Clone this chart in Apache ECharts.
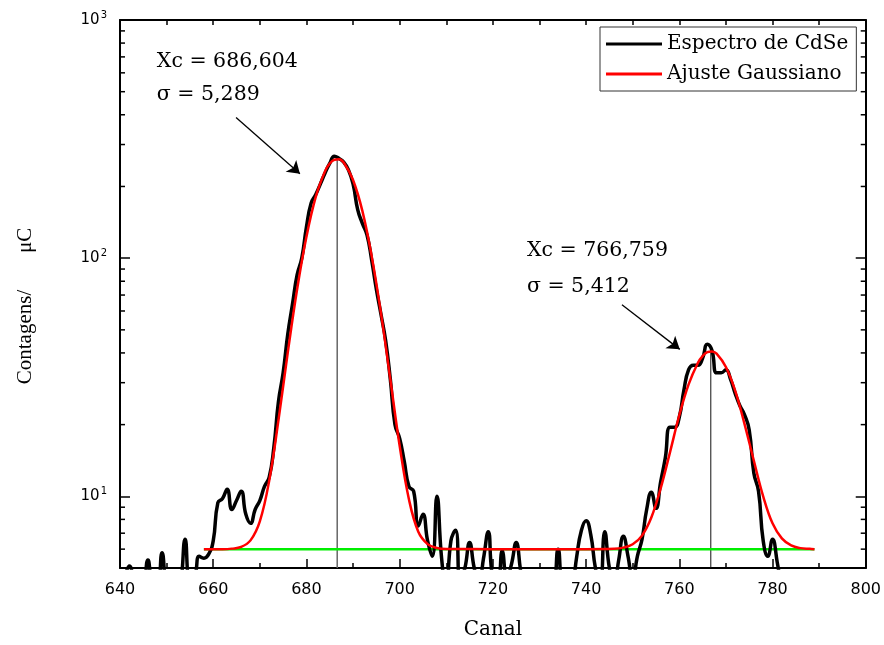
<!DOCTYPE html>
<html>
<head>
<meta charset="utf-8">
<script src="https://cdn.jsdelivr.net/npm/echarts@6/dist/echarts.min.js"></script>
<style>html,body{margin:0;padding:0;background:#fff}#c{width:884px;height:645px}</style>
</head>
<body>
<div id="c"></div>
<script>
// ---- data ----
const spectrumChannels = [640,641,642,643,644,645,646,647,648,649,650,651,652,653,654,655,656,657,658,659,
660,661,662,663,664,665,666,667,668,669,670,671,672,673,674,675,676,677,678,679,
680,681,682,683,684,685,686,687,688,689,690,691,692,693,694,695,696,697,698,699,
700,701,702,703,704,705,706,707,708,709,710,711,712,713,714,715,716,717,718,719,
720,721,722,723,724,725,726,727,728,729,730,731,732,733,734,735,736,737,738,739,
740,741,742,743,744,745,746,747,748,749,750,751,752,753,754,755,756,757,758,759,
760,761,762,763,764,765,766,767,768,769,770,771,772,773,774,775,776,777,778,779,
780,781,782];
const spectrumCounts = [4.0,4.6,5.1,4.2,3.5,3.8,5.4,4.2,4.0,5.8,4.0,3.5,3.5,4.2,6.6,4.5,4.6,5.6,5.5,5.7,
6.5,9.4,9.8,10.7,8.8,9.6,10.5,8.4,7.7,8.8,9.6,11.0,12.0,16,25,33,48,64,85,100,
135,170,185,205,228,250,268,262,253,235,205,160,140,125,98,74,58,45,31,20,
17.5,14,11,10.5,7.5,8.4,6.5,5.6,10,5.5,4.0,6.5,7.2,4.4,5.0,6.4,5.0,4.3,5.5,7.1,
4.5,4.4,5.9,4.5,5.2,6.4,4.8,3.8,3.5,3.5,3.5,3.5,3.5,3.8,6.0,3.8,3.5,4.0,5.6,7.2,
7.9,6.9,5.0,4.2,7.1,5.0,4.2,5.4,6.8,5.6,4.4,5.6,6.6,8.8,10.4,8.9,11.5,14.5,19.5,19.5,
21.5,28,34,35.5,35.5,38,43.5,41,33,33,34,31,27,24,22,19,12.5,10.5,6.5,5.6,
6.6,5.3,4.0];

const fitChannels = [658,660,662,664,666,668,670,672,674,676,678,680,682,684,685,686,687,688,690,692,
694,696,698,700,702,704,706,708,710,720,730,740,746,748,750,752,754,756,758,760,
762,764,765,766,767,768,770,772,774,776,778,780,782,784,786,788,789];
const fitValues = [6.0,6.0,6.0,6.03,6.13,6.53,7.85,11.6,20.9,40.2,74,123,181,232,249.6,259,260.3,252,213,158,
102,58.6,31,16.3,9.7,7.1,6.3,6.07,6.01,6.0,6.0,6.0,6.02,6.09,6.29,6.84,8.15,10.8,15.3,21.9,
29.5,36.4,38.8,40.3,40.6,39.7,34.9,27.7,20.1,14.1,10.0,7.7,6.66,6.22,6.06,6.02,6.0];

const baselineChannels = [658, 789];
const baselineValue = 6.0;

const peakCenters = [686.604, 766.759];
const peakTops = [265, 43];

const xTickLabels = [640,660,680,700,720,740,760,780,800];
const yMinorTicks = [6,7,8,9,20,30,40,50,60,70,80,90,200,300,400,500,600,700,800,900];

const seriesNames = ['Espectro de CdSe', 'Ajuste Gaussiano'];
const annotations = ['Xc = 686,604', 'σ = 5,289', 'Xc = 766,759', 'σ = 5,412'];

// ---- chart ----
const X_MIN = xTickLabels[0], X_MAX = xTickLabels[xTickLabels.length-1];
const chart = echarts.init(document.getElementById('c'), null, {renderer:'canvas'});

const spectrum = spectrumChannels.map((c,i)=>[c, spectrumCounts[i]]);
const fit = fitChannels.map((c,i)=>[c, fitValues[i]]);
const baseline = baselineChannels.map(c=>[c, baselineValue]);

function supLabel(v){
  const l = Math.log10(v), e = Math.round(l);
  if (Math.abs(l - e) > 1e-6) return '';
  return '{b|10}{s|' + e + '}';
}

const xAxisCommon = {
  type:'value', min:X_MIN, max:X_MAX, interval:20,
  axisLine:{show:true, onZero:false, lineStyle:{color:'#000', width:2}},
  axisTick:{show:true, inside:true, length:9, lineStyle:{color:'#000', width:1.5}},
  minorTick:{show:true, splitNumber:2, length:5, lineStyle:{color:'#000', width:1.5}},
  splitLine:{show:false}, minorSplitLine:{show:false}
};
const yAxisCommon = {
  type:'log', logBase:10, min:5, max:1000,
  axisLine:{show:true, onZero:false, lineStyle:{color:'#000', width:2}},
  axisTick:{show:true, inside:true, length:10, lineStyle:{color:'#000', width:1.5}},
  splitLine:{show:false}
};

const option = {
  animation:false,
  backgroundColor:'#fff',
  grid:{left:120, right:18, top:20, bottom:73, containLabel:false},
  legend:{
    data:seriesNames, orient:'vertical', left:600, top:27,
    icon:'rect', itemWidth:56, itemHeight:3, itemGap:10, itemTextGap:9,
    padding:[7,8,7,6], borderColor:'#333', borderWidth:1, backgroundColor:'#fff',
    textStyle:{fontFamily:'DejaVu Serif', fontSize:20, color:'#000'}
  },
  xAxis:[
    Object.assign({}, xAxisCommon, {
      position:'bottom',
      name:'Canal', nameLocation:'middle', nameGap:52,
      nameTextStyle:{fontFamily:'DejaVu Serif', fontSize:20, color:'#000'},
      axisLabel:{show:true, margin:14, fontFamily:'DejaVu Sans', fontSize:16, color:'#000'}
    }),
    Object.assign({}, xAxisCommon, {position:'top', axisLabel:{show:false},
      axisTick:{show:true, inside:true, length:5, lineStyle:{color:'#000', width:1.5}},
      minorTick:{show:true, splitNumber:2, length:5, lineStyle:{color:'#000', width:1.5}}})
  ],
  yAxis:[
    Object.assign({}, yAxisCommon, {
      position:'left',
      name:'Contagens/       μC', nameLocation:'middle', nameGap:84, nameRotate:90,
      nameTextStyle:{fontFamily:'Liberation Serif', fontSize:21, color:'#000', padding:[0,24,0,0]},
      axisLabel:{show:true, margin:13, showMinLabel:false, formatter:supLabel,
        rich:{b:{fontFamily:'DejaVu Sans', fontSize:15, color:'#000'},
              s:{fontFamily:'DejaVu Sans', fontSize:10, color:'#000', padding:[0,0,9,1]}}}
    }),
    Object.assign({}, yAxisCommon, {position:'right', axisLabel:{show:false}})
  ],
  series:[
    {
      name:'Baseline', type:'line', data:baseline, xAxisIndex:0, yAxisIndex:0,
      symbol:'none', lineStyle:{color:'#00ee00', width:2.5}, z:2, silent:true,
      markLine:{
        silent:true, symbol:['none','arrow'], symbolSize:12,
        lineStyle:{color:'#000', width:1.3, type:'solid'},
        label:{show:false},
        data:[
          [{coord:[664.9, 390]}, {coord:[678.6, 226]}],
          [{coord:[747.7, 63.7]}, {coord:[760.1, 41.4]}]
        ]
      },
      markPoint:{
        symbol:'circle', symbolSize:0, silent:true,
        itemStyle:{color:'rgba(0,0,0,0)'},
        label:{show:true, position:'right', distance:0, fontFamily:'DejaVu Serif', fontSize:20.5, color:'#000',
          formatter:p=>p.name},
        data:[
          {name:annotations[0], coord:[647.9, 668]},
          {name:annotations[1], coord:[647.9, 485]},
          {name:annotations[2], coord:[727.3, 107]},
          {name:annotations[3], coord:[727.3, 76]}
        ]
      }
    },
    {
      name:'PeakLine1', type:'line', symbol:'none', silent:true, z:1,
      data:[[peakCenters[0], 5], [peakCenters[0], peakTops[0]]],
      lineStyle:{color:'#666', width:1.5}
    },
    {
      name:'PeakLine2', type:'line', symbol:'none', silent:true, z:1,
      data:[[peakCenters[1], 5], [peakCenters[1], peakTops[1]]],
      lineStyle:{color:'#111', width:1}
    },
    {
      name:seriesNames[0], type:'line', data:spectrum, symbol:'none', smooth:0.5,
      lineStyle:{color:'#000', width:3.5}, itemStyle:{color:'#000'}, z:3, clip:true
    },
    {
      name:seriesNames[1], type:'line', data:fit, symbol:'none', smooth:0.4,
      lineStyle:{color:'#ff0000', width:2.5}, itemStyle:{color:'#ff0000'}, z:4, clip:true
    },
    {
      name:'MinorTicks', type:'custom', silent:true, z:5, clip:false,
      data:yMinorTicks.map(v=>[X_MIN, v]),
      renderItem:function(params, api){
        const v = api.value(1);
        const l = api.coord([X_MIN, v]);
        const r = api.coord([X_MAX, v]);
        return {type:'group', children:[
          {type:'line', shape:{x1:l[0], y1:l[1], x2:l[0]+5, y2:l[1]}, style:{stroke:'#000', lineWidth:1.5}},
          {type:'line', shape:{x1:r[0]-5, y1:r[1], x2:r[0], y2:r[1]}, style:{stroke:'#000', lineWidth:1.5}}
        ]};
      }
    }
  ]
};
chart.setOption(option);
</script>
</body>
</html>
